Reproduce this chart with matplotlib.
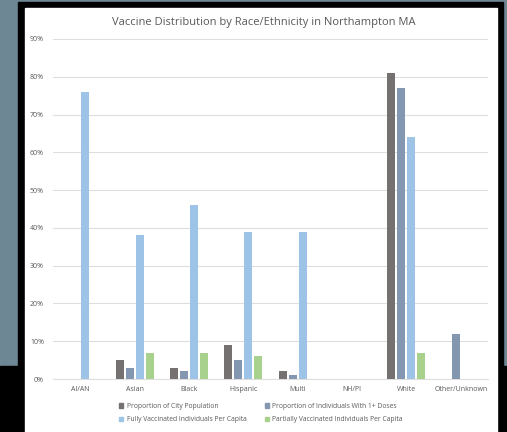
import matplotlib.pyplot as plt
from matplotlib.patches import Rectangle, Patch
import numpy as np

# Data (percent)
categories = ["AI/AN", "Asian", "Black", "Hispanic", "Multi", "NH/PI", "White", "Other/Unknown"]
city_population = [0, 5, 3, 9, 2, 0, 81, 0]
one_plus_doses = [0, 3, 2, 5, 1, 0, 77, 12]
fully_vaccinated = [76, 38, 46, 39, 39, 0, 64, 0]
partially_vaccinated = [0, 7, 7, 6, 0, 0, 7, 0]

series_names = [
    "Proportion of City Population",
    "Proportion of Individuals With 1+ Doses",
    "Fully Vaccinated Individuals Per Capita",
    "Partially Vaccinated Individuals Per Capita",
]
series_colors = ["#767171", "#8497B0", "#9DC3E6", "#A9D18E"]

plt.rcParams["font.family"] = ["Open Sans", "DejaVu Sans"]
text_color = "#595959"

W, H = 507, 432
fig = plt.figure(figsize=(W / 100, H / 100), dpi=100, facecolor="#6E8795")

def px_rect(x0, y0, x1, y1, color):
    # rectangle given in pixel coords (origin top-left)
    fig.patches.append(Rectangle((x0 / W, 1 - y1 / H), (x1 - x0) / W, (y1 - y0) / H,
                                 transform=fig.transFigure, color=color, zorder=-10))

# slide frame around the chart
px_rect(18, 2, 503, H, "black")
px_rect(0, 366, W, H, "black")
px_rect(25, 8, 497, H, "white")

ax = fig.add_axes([53 / W, 1 - 379 / H, (488 - 53) / W, (379 - 39) / H])
ax.set_zorder(5)
ax.set_facecolor("none")

x = np.arange(len(categories))
bar_w = 0.147
step = 0.184
all_series = [city_population, one_plus_doses, fully_vaccinated, partially_vaccinated]
for i, (vals, col, name) in enumerate(zip(all_series, series_colors, series_names)):
    offs = (i - 1.5) * step
    ax.bar(x + offs, np.array(vals) / 100, width=bar_w, color=col, label=name, zorder=3)

ax.set_xlim(-0.5, len(categories) - 0.5)
ax.set_ylim(0, 0.9)
ax.set_yticks(np.arange(0, 0.91, 0.1))
ax.set_yticklabels([f"{int(round(v * 100))}%" for v in np.arange(0, 0.91, 0.1)])
ax.set_xticks(x)
ax.set_xticklabels(categories)
ax.grid(axis="y", color="#DEDEDE", linewidth=0.8, zorder=0)
for s in ["top", "right", "left"]:
    ax.spines[s].set_visible(False)
ax.spines["bottom"].set_color("#DEDEDE")
ax.spines["bottom"].set_linewidth(0.8)
ax.tick_params(axis="both", length=0, colors=text_color, labelsize=5)
ax.tick_params(axis="y", pad=6.5)
ax.tick_params(axis="x", pad=5)

fig.text(0.521, 1 - 22 / H, "Vaccine Distribution by Race/Ethnicity in Northampton MA",
         ha="center", va="center", fontsize=8.0, color=text_color)

# legend: Excel fills rows, matplotlib fills columns
order = [0, 2, 1, 3]
handles = [Patch(color=series_colors[i]) for i in order]
labels = [series_names[i] for i in order]
fig.legend(handles, labels, ncol=2, loc="center", bbox_to_anchor=(0.515, 1 - 413 / H),
           frameon=False, fontsize=4.9, labelcolor=text_color, handlelength=0.6,
           handleheight=0.6, handletextpad=0.45, columnspacing=2.8, labelspacing=0.95)

fig.savefig("out.png", dpi=100, facecolor=fig.get_facecolor())
